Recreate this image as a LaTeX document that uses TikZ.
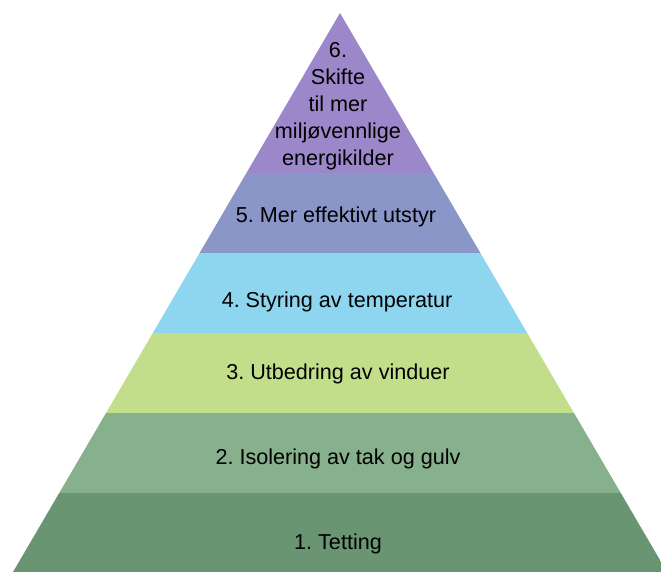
\documentclass[tikz,border=0pt]{standalone}
\usepackage{fontspec}
\setmainfont{Liberation Sans}
\usepackage{tikz}
\frenchspacing
\definecolor{lvlone}{RGB}{106,149,114}
\definecolor{lvltwo}{RGB}{135,176,140}
\definecolor{lvlthree}{RGB}{195,222,138}
\definecolor{lvlfour}{RGB}{142,213,240}
\definecolor{lvlfive}{RGB}{138,150,200}
\definecolor{lvlsix}{RGB}{155,135,201}
\tikzset{
  band/.style={draw=none},
  lbl/.style={font=\fontsize{21.6}{27}\selectfont, align=center, text=black, inner sep=0pt}
}
\begin{document}
\begin{tikzpicture}[x=1pt,y=-1pt]
  \useasboundingbox (0,0) rectangle (661,572);
  \begin{scope}
    \clip (340,13) -- (667,572) -- (13,572) -- cycle;
    \fill[band, lvlsix] (0,0) rectangle (661,173);
    \fill[band, lvlfive] (0,173) rectangle (661,253);
    \fill[band, lvlfour] (0,253) rectangle (661,333);
    \fill[band, lvlthree] (0,333) rectangle (661,413);
    \fill[band, lvltwo] (0,413) rectangle (661,493);
    \fill[band, lvlone] (0,493) rectangle (661,572);
  \end{scope}

  \node[lbl] (six) at (338,106) {6.\\Skifte\\til mer\\miljøvennlige\\energikilder};
  \node[lbl] (five) at (336,217) {5. Mer effektivt utstyr};
  \node[lbl] (four) at (337,302) {4. Styring av temperatur};
  \node[lbl] (three) at (338,374) {3. Utbedring av vinduer};
  \node[lbl] (two) at (338,459) {2. Isolering av tak og gulv};
  \node[lbl] (one) at (338,544) {1. Tetting};
\end{tikzpicture}
\end{document}
